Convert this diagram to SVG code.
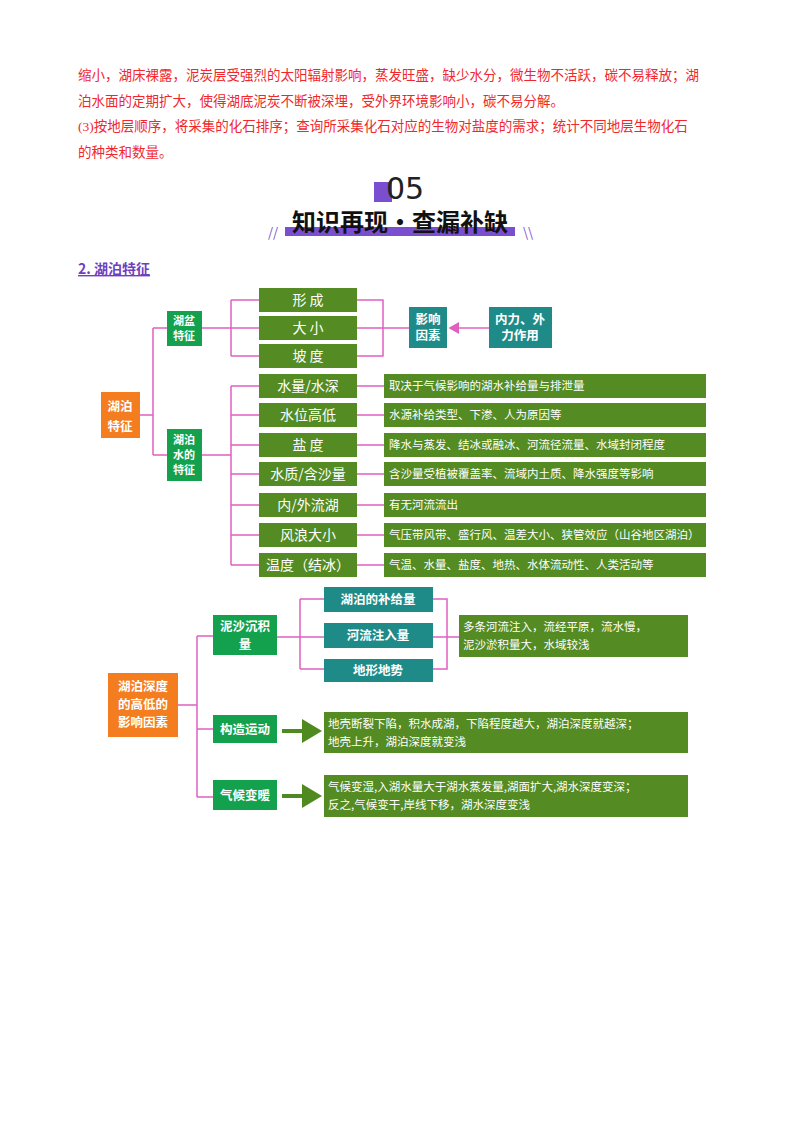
<svg xmlns="http://www.w3.org/2000/svg" width="800" height="1134" viewBox="0 0 800 1134">
<style>
text{font-family:"Noto Sans CJK SC","Liberation Sans",sans-serif}
.red{fill:#f0282d;font-size:13.5px;font-family:"Liberation Serif","Noto Sans CJK SC",serif}
.og{fill:#548b23}
.gr{fill:#14a14e}
.tl{fill:#1f8b88}
.or{fill:#f47d20}
.wt{fill:#fff;font-size:12.5px;font-weight:bold;text-anchor:middle}
.ws{fill:#fff;font-size:11px;font-weight:bold;text-anchor:middle}
.wm{fill:#fff;font-size:14px;text-anchor:middle}
.wl{fill:#fff;font-size:11.5px}
.ln{stroke:#e060c0;stroke-width:1.5;fill:none}
</style>
<defs>
<marker id="pa" markerWidth="8" markerHeight="8" refX="6" refY="4" orient="auto"><path d="M0,0L7,4L0,8z" fill="#e060c0"/></marker>
<marker id="ga" markerWidth="6" markerHeight="6" refX="3" refY="3" orient="auto"><path d="M0,0L5,3L0,6z" fill="#4e8a1f"/></marker>
</defs>
<text class="red" x="78" y="80">缩小，湖床裸露，泥炭层受强烈的太阳辐射影响，蒸发旺盛，缺少水分，微生物不活跃，碳不易释放；湖</text>
<text class="red" x="78" y="106">泊水面的定期扩大，使得湖底泥炭不断被深埋，受外界环境影响小，碳不易分解。</text>
<text class="red" x="78" y="131">(3)按地层顺序，将采集的化石排序；查询所采集化石对应的生物对盐度的需求；统计不同地层生物化石</text>
<text class="red" x="78" y="157">的种类和数量。</text>
<rect x="374" y="182" width="18" height="20" fill="#7a4fcf"/>
<text x="405" y="199" font-size="30" text-anchor="middle" fill="#222" style="font-family:'DejaVu Sans',sans-serif">05</text>
<rect x="285" y="227" width="230" height="9" fill="#7a4fcf"/>
<text x="400" y="231" font-size="24" font-weight="bold" text-anchor="middle" fill="#111">知识再现·查漏补缺</text>
<text x="268" y="237" font-size="13" fill="#7a4fcf">//</text>
<text x="523" y="237" font-size="13" fill="#7a4fcf">\\</text>
<text x="78" y="274" font-size="14" font-weight="bold" fill="#6f3fbf" text-decoration="underline">2. 湖泊特征</text>

<g id="connectors">
<path class="ln" d="M140,415H153M153,328V455M153,328H167M153,455H167"/>
<path class="ln" d="M202,328H231M231,300V356M231,300H259M231,328H259M231,356H259"/>
<path class="ln" d="M357,300H383V356H357M357,328H409"/>
<path class="ln" d="M489,328H450" marker-end="url(#pa)"/>
<path class="ln" d="M202,455H231M231,386V565M231,386H259M231,415H259M231,445H259M231,474H259M231,505H259M231,535H259M231,565H259"/>
<path class="ln" d="M357,386H384M357,415H384M357,445H384M357,474H384M357,505H384M357,535H384M357,565H384"/>
<path class="ln" d="M178,705H197M197,636V797M197,636H213M197,729H213M197,797H213"/>
<path class="ln" d="M277,637H300M300,599V669M300,599H324M300,637H324M300,669H324"/>
<path class="ln" d="M433,599H447V669H433M433,637H459"/>
<path d="M282,731H314" stroke="#4e8a1f" stroke-width="4" marker-end="url(#ga)"/>
<path d="M282,796H314" stroke="#4e8a1f" stroke-width="4" marker-end="url(#ga)"/>
</g>

<g id="n-lake"><rect class="or" x="101" y="392" width="39" height="46"/><text class="wt" x="120" y="411" font-size="15">湖泊</text><text class="wt" x="120" y="431" font-size="15">特征</text></g>
<g id="n-basin"><rect class="gr" x="167" y="311" width="35" height="35"/><text class="ws" x="184" y="325">湖盆</text><text class="ws" x="184" y="340">特征</text></g>
<g id="n-water"><rect class="gr" x="167" y="429" width="35" height="52"/><text class="ws" x="184" y="444">湖泊</text><text class="ws" x="184" y="459">水的</text><text class="ws" x="184" y="474">特征</text></g>
<g id="n-xc"><rect class="og" x="259" y="288" width="98" height="24"/><text class="wm" x="308" y="305">形  成</text></g>
<g id="n-dx"><rect class="og" x="259" y="316" width="98" height="24"/><text class="wm" x="308" y="333">大  小</text></g>
<g id="n-pd"><rect class="og" x="259" y="344" width="98" height="24"/><text class="wm" x="308" y="361">坡  度</text></g>
<g id="n-yx"><rect class="tl" x="409" y="307" width="38" height="41"/><text class="wt" x="428" y="324">影响</text><text class="wt" x="428" y="340">因素</text></g>
<g id="n-nl"><rect class="tl" x="489" y="307" width="63" height="41"/><text class="wt" x="520" y="324">内力、外</text><text class="wt" x="520" y="340">力作用</text></g>

<g id="n-r1"><rect class="og" x="259" y="374" width="98" height="24"/><text class="wm" x="308" y="391">水量/水深</text><rect class="og" x="384" y="374" width="322" height="24"/><text class="wl" x="389" y="390">取决于气候影响的湖水补给量与排泄量</text></g>
<g id="n-r2"><rect class="og" x="259" y="403" width="98" height="24"/><text class="wm" x="308" y="420">水位高低</text><rect class="og" x="384" y="403" width="322" height="24"/><text class="wl" x="389" y="419">水源补给类型、下渗、人为原因等</text></g>
<g id="n-r3"><rect class="og" x="259" y="433" width="98" height="24"/><text class="wm" x="308" y="450">盐  度</text><rect class="og" x="384" y="433" width="322" height="24"/><text class="wl" x="389" y="449">降水与蒸发、结冰或融冰、河流径流量、水域封闭程度</text></g>
<g id="n-r4"><rect class="og" x="259" y="462" width="98" height="24"/><text class="wm" x="308" y="479">水质/含沙量</text><rect class="og" x="384" y="462" width="322" height="24"/><text class="wl" x="389" y="478">含沙量受植被覆盖率、流域内土质、降水强度等影响</text></g>
<g id="n-r5"><rect class="og" x="259" y="493" width="98" height="24"/><text class="wm" x="308" y="510">内/外流湖</text><rect class="og" x="384" y="493" width="322" height="24"/><text class="wl" x="389" y="509">有无河流流出</text></g>
<g id="n-r6"><rect class="og" x="259" y="523" width="98" height="24"/><text class="wm" x="308" y="540">风浪大小</text><rect class="og" x="384" y="523" width="322" height="24"/><text class="wl" x="389" y="539">气压带风带、盛行风、温差大小、狭管效应（山谷地区湖泊）</text></g>
<g id="n-r7"><rect class="og" x="259" y="553" width="98" height="24"/><text class="wm" x="308" y="570">温度（结冰）</text><rect class="og" x="384" y="553" width="322" height="24"/><text class="wl" x="389" y="569">气温、水量、盐度、地热、水体流动性、人类活动等</text></g>

<g id="n-depth"><rect class="or" x="108" y="673" width="70" height="64"/><text class="wt" x="143" y="691" font-size="13.5">湖泊深度</text><text class="wt" x="143" y="709" font-size="13.5">的高低的</text><text class="wt" x="143" y="727" font-size="13.5">影响因素</text></g>
<g id="n-ns"><rect class="gr" x="213" y="615" width="64" height="40"/><text class="wt" x="245" y="631" font-size="13.5">泥沙沉积</text><text class="wt" x="245" y="649" font-size="13.5">量</text></g>
<g id="n-bj"><rect class="tl" x="324" y="587" width="109" height="25"/><text class="wt" x="378" y="604">湖泊的补给量</text></g>
<g id="n-hl"><rect class="tl" x="324" y="623" width="109" height="25"/><text class="wt" x="378" y="640">河流注入量</text></g>
<g id="n-dxs"><rect class="tl" x="324" y="659" width="109" height="23"/><text class="wt" x="378" y="675">地形地势</text></g>
<g id="n-dt"><rect class="og" x="459" y="615" width="229" height="42"/><text class="wl" x="463" y="631">多条河流注入，流经平原，流水慢，</text><text class="wl" x="463" y="649">泥沙淤积量大，水域较浅</text></g>
<g id="n-gz"><rect class="gr" x="213" y="715" width="64" height="28"/><text class="wt" x="245" y="734">构造运动</text></g>
<g id="n-gzt"><rect class="og" x="324" y="712" width="364" height="41"/><text class="wl" x="328" y="728">地壳断裂下陷，积水成湖，下陷程度越大，湖泊深度就越深；</text><text class="wl" x="328" y="746">地壳上升，湖泊深度就变浅</text></g>
<g id="n-qh"><rect class="gr" x="213" y="780" width="64" height="30"/><text class="wt" x="245" y="800">气候变暖</text></g>
<g id="n-qht"><rect class="og" x="324" y="775" width="364" height="42"/><text class="wl" x="328" y="791">气候变湿,入湖水量大于湖水蒸发量,湖面扩大,湖水深度变深；</text><text class="wl" x="328" y="809">反之,气候变干,岸线下移，湖水深度变浅</text></g>
</svg>
